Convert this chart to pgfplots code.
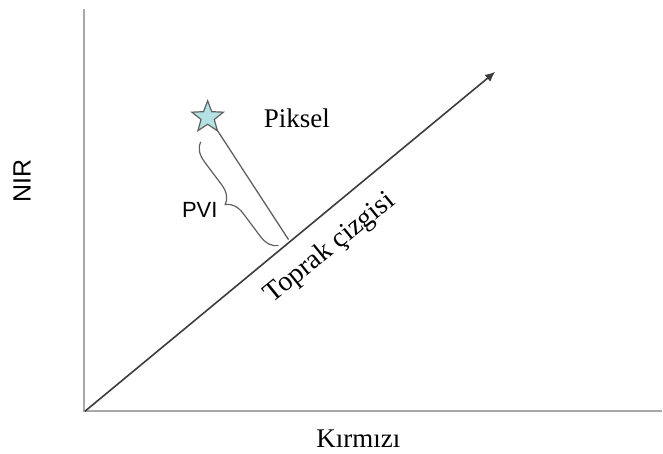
\documentclass[border=0pt]{standalone}
\usepackage{pgfplots}
\pgfplotsset{compat=1.18}
\usepackage{fontspec}
\setmainfont{Liberation Serif}
\newfontfamily\arialf{Liberation Sans}
\usetikzlibrary{arrows.meta,decorations.pathreplacing}
\definecolor{axgray}{HTML}{A8A8A8}
\definecolor{soil}{HTML}{3C3C3C}
\definecolor{perp}{HTML}{606060}
\definecolor{starfill}{HTML}{B4E2E4}
\pgfdeclareplotmark{fstar}{%
  \pgfpathmoveto{\pgfpointpolar{90}{\pgfplotmarksize}}%
  \pgfpathlineto{\pgfpointpolar{126}{0.42\pgfplotmarksize}}%
  \pgfpathlineto{\pgfpointpolar{162}{\pgfplotmarksize}}%
  \pgfpathlineto{\pgfpointpolar{198}{0.42\pgfplotmarksize}}%
  \pgfpathlineto{\pgfpointpolar{234}{\pgfplotmarksize}}%
  \pgfpathlineto{\pgfpointpolar{270}{0.42\pgfplotmarksize}}%
  \pgfpathlineto{\pgfpointpolar{306}{\pgfplotmarksize}}%
  \pgfpathlineto{\pgfpointpolar{342}{0.42\pgfplotmarksize}}%
  \pgfpathlineto{\pgfpointpolar{18}{\pgfplotmarksize}}%
  \pgfpathlineto{\pgfpointpolar{54}{0.42\pgfplotmarksize}}%
  \pgfpathclose
  \pgfusepathqfillstroke
}
\begin{document}
\begin{tikzpicture}
\begin{axis}[
  hide axis, scale only axis,
  width=331.5pt, height=227pt,
  xmin=0, xmax=663, ymin=0, ymax=454,
  y dir=reverse, clip=false,
]
\addplot[draw=none, forget plot] coordinates {(0,0) (663,454)};
% axes
\addplot[axgray, line width=1.1pt] coordinates {(84,9) (84,412) (663,412)};
% soil line
\addplot[soil, line width=0.8pt, -{Latex[length=5pt,width=4.5pt]}] coordinates {(85,412) (496,72)};
% perpendicular from pixel to soil line
\addplot[perp, line width=0.65pt] coordinates {(216,128) (289,240)};
% pixel star
\addplot[only marks, mark=fstar, mark size=8.3pt, mark options={fill=starfill, draw=perp, line width=0.6pt}] coordinates {(208,117.5)};
% brace
\draw[perp, line width=0.6pt, decorate, decoration={brace, amplitude=9pt, aspect=0.5}]
  (axis cs:279,246) -- (axis cs:201,142);
% labels
\node[anchor=base west, inner sep=0pt, font=\fontsize{13.5}{16}\selectfont] at (axis cs:264,128) {Piksel};
\node[anchor=base west, inner sep=0pt, font=\arialf\fontsize{11}{13}\selectfont] at (axis cs:182,218) {PVI};
\node[rotate=90, inner sep=0pt, font=\arialf\fontsize{12.5}{15}\selectfont] at (axis cs:22,181) {NIR};
\node[anchor=base, inner sep=0pt, font=\fontsize{13.5}{16}\selectfont] at (axis cs:359,448) {Kırmızı};
\node[anchor=base, inner sep=0pt, rotate=39, font=\fontsize{14}{17}\selectfont] at (axis cs:335,254) {Toprak çizgisi};
\end{axis}
\end{tikzpicture}
\end{document}
